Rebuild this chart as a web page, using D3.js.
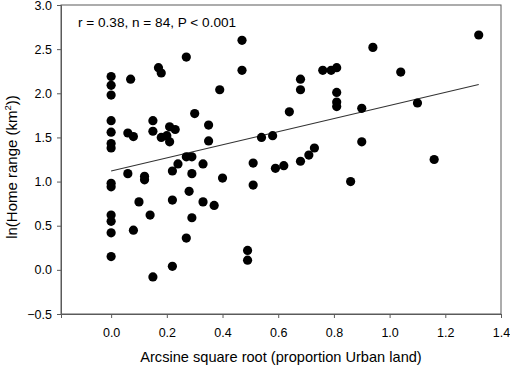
<!DOCTYPE html>
<html>
<head>
<meta charset="utf-8">
<script src="https://cdn.jsdelivr.net/npm/d3@7"></script>
<style>
    body { margin: 0; background: white; }
</style>
</head>
<body>
<script>
// values
const urban = [0,0,0,0,0,0,0,0,0,0,0,0,0, 0.06,0.06, 0.07, 0.08,0.08, 0.10, 0.12,0.12, 0.14,
    0.15,0.15,0.15, 0.17, 0.18,0.18, 0.20, 0.21,0.21, 0.22,0.22,0.22, 0.23, 0.24, 0.27,0.27,0.27,
    0.28, 0.29,0.29,0.29, 0.30, 0.33,0.33, 0.35,0.35, 0.37, 0.39, 0.40, 0.47,0.47, 0.49,0.49,
    0.51,0.51, 0.54, 0.58, 0.59, 0.62, 0.64, 0.68,0.68,0.68, 0.71, 0.73, 0.76, 0.79,
    0.81,0.81,0.81,0.81, 0.86, 0.90,0.90, 0.94, 1.04, 1.10, 1.16, 1.32]
const homeRange = [2.19,2.09,1.98,1.69,1.56,1.43,1.38,0.98,0.94,0.62,0.55,0.42,0.15, 1.55,1.09, 2.16, 1.51,0.45, 0.77, 1.06,1.02, 0.62,
    1.69,1.57,-0.08, 2.29, 2.23,1.50, 1.52, 1.62,1.45, 1.12,0.79,0.04, 1.59, 1.20, 2.41,1.28,0.36,
    0.89, 1.28,1.09,0.59, 1.77, 1.20,0.77, 1.64,1.46, 0.73, 2.04, 1.04, 2.60,2.26, 0.22,0.11,
    1.21,0.96, 1.50, 1.52, 1.15, 1.18, 1.79, 2.16,2.04,1.23, 1.30, 1.38, 2.26, 2.26,
    2.29,2.01,1.90,1.85, 1.00, 1.83,1.45, 2.52, 2.24, 1.89, 1.25, 2.66]

const fitX = [0, 1.32]
const fitY = [1.12, 2.10]

const xTicks = [0, 0.2, 0.4, 0.6, 0.8, 1.0, 1.2, 1.4]
const yTicks = [-0.5, 0, 0.5, 1.0, 1.5, 2.0, 2.5, 3.0]
const stats = "r = 0.38, n = 84, P < 0.001"

function setCanvas(w, h) {
    return d3.select("body")
    .append("svg")
        .attr("width", w)
        .attr("height", h)
        .attr("font-family", "Arial, 'Liberation Sans', sans-serif")
}

function draw() {
    const w = 510, h = 366
    const m = {top: 5, right: 9, bottom: 52, left: 61}
    const a = {
        frame:  "#5a5a5a",
        dot:    "#000000",
        fit:    "#333333",
        text:   "#000000",
    }

    const svg = setCanvas(w, h)

    const x = d3.scaleLinear()
        .domain([-0.18, 1.4])
        .range([m.left, w - m.right])
    const y = d3.scaleLinear()
        .domain([-0.5, 3.0])
        .range([h - m.bottom, m.top])

    // box around plot
    svg.append("rect")
        .attr("x", m.left)
        .attr("y", m.top)
        .attr("width", w - m.left - m.right)
        .attr("height", h - m.top - m.bottom)
        .attr("fill", "none")
        .attr("stroke", a.frame)

    const xAxis = svg.append("g")
        .attr("transform", `translate(0,${h - m.bottom})`)
        .call(d3.axisBottom(x).tickValues(xTicks).tickFormat(d3.format(".1f")).tickSize(4).tickPadding(10))
    const yAxis = svg.append("g")
        .attr("transform", `translate(${m.left},0)`)
        .call(d3.axisLeft(y).tickValues(yTicks).tickFormat(d3.format(".1f")).tickSize(4).tickPadding(5))

    for (const g of [xAxis, yAxis]) {
        g.select(".domain").attr("stroke", a.frame)
        g.selectAll(".tick line").attr("stroke", a.frame)
        g.selectAll(".tick text")
            .attr("fill", a.text)
            .style("font-size", "12.5px")
            .style("font-family", "Arial, 'Liberation Sans', sans-serif")
    }

    // regression line
    svg.append("line")
        .attr("x1", x(fitX[0]))
        .attr("y1", y(fitY[0]))
        .attr("x2", x(fitX[1]))
        .attr("y2", y(fitY[1]))
        .attr("stroke", a.fit)
        .attr("stroke-width", 1.1)

    svg.append("g")
        .attr("fill", a.dot)
    .selectAll("circle")
        .data(urban.map((u, i) => ({u, r: homeRange[i]})))
        .join("circle")
            .attr("cx", d => x(d.u))
            .attr("cy", d => y(d.r))
            .attr("r", 4.6)

    svg.append("text")
        .attr("x", 78)
        .attr("y", 27)
        .style("font-size", "13.6px")
        .attr("fill", a.text)
        .text(stats)

    svg.append("text")
        .attr("x", (m.left + w - m.right) / 2)
        .attr("y", 362)
        .attr("text-anchor", "middle")
        .style("font-size", "14.6px")
        .attr("fill", a.text)
        .text("Arcsine square root (proportion Urban land)")

    const yt = svg.append("text")
        .attr("transform", `translate(17,${167}) rotate(-90)`)
        .attr("text-anchor", "middle")
        .style("font-size", "15px")
        .attr("fill", a.text)
    yt.append("tspan").text("ln(Home range (km")
    yt.append("tspan").attr("dy", -6).style("font-size", "9.5px").text("2")
    yt.append("tspan").attr("dy", 6).text("))")
}

draw()
</script>
</body>
</html>
